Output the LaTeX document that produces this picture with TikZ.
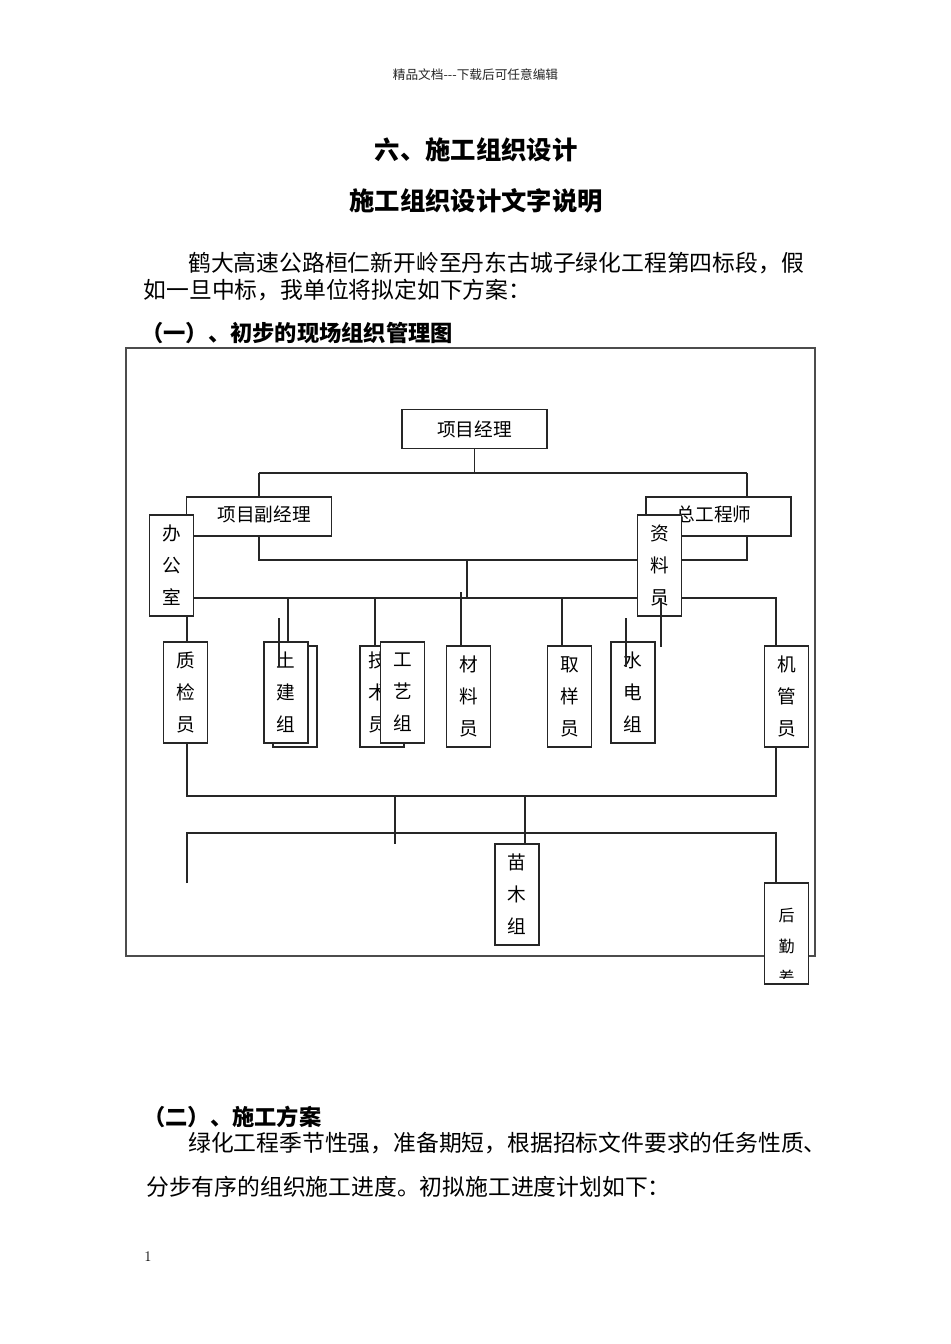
\documentclass[tikz,border=0pt]{standalone}
\usepackage{fontspec}
\newfontfamily\cjk{Noto Sans CJK SC}
\usetikzlibrary{backgrounds}
\begin{document}
\begin{tikzpicture}[x=0.75pt,y=-0.75pt,
  ln/.style={line width=0.9pt, draw=black!85},
  frame/.style={line width=0.9pt, draw=black!70},
  box/.style={draw=black!85, line width=0.9pt, fill=white, inner sep=0pt},
  hbox/.style={box, minimum width=108.75pt, minimum height=28.9pt, font=\cjk\fontsize{14}{16}\selectfont},
  vbox/.style={box, minimum width=33.5pt, minimum height=75.75pt, align=center, font=\cjk\fontsize{14}{24}\selectfont},
  lab/.style={inner sep=0pt, font=\cjk\fontsize{14}{16}\selectfont},
  vlab/.style={inner sep=0pt, align=center, font=\cjk\fontsize{14}{24}\selectfont},
  body/.style={inner sep=0pt, anchor=west, font=\cjk\fontsize{17.1}{20}\selectfont},
  head/.style={inner sep=0pt, anchor=west, font=\cjk\bfseries\fontsize{16.7}{20}\selectfont},
  ttl/.style={inner sep=0pt, font=\cjk\bfseries\fontsize{19}{22}\selectfont},
]
\useasboundingbox (0,0) rectangle (950,1344);

% ---------- page texts ----------
\node[inner sep=0pt, font=\cjk\fontsize{9.5}{11}\selectfont, text=black!85] (hdr) at (475.5,75) {精品文档---下载后可任意编辑};
\node[ttl] (t1) at (476,150) {六、施工组织设计};
\node[ttl] (t2) at (476,201) {施工组织设计文字说明};
\node[body] (p1) at (188,263) {鹤大高速公路桓仁新开岭至丹东古城子绿化工程第四标段，假};
\node[body] (p2) at (143.5,290) {如一旦中标，我单位将拟定如下方案：};
\node[head] (h1) at (141,333) {（一）、初步的现场组织管理图};
\node[head] (h2) at (143,1117) {（二）、施工方案};
\node[body] (p3) at (188,1143) {绿化工程季节性强，准备期短，根据招标文件要求的任务性质、};
\node[body] (p4) at (146,1187) {分步有序的组织施工进度。初拟施工进度计划如下：};
\node[inner sep=0pt, font=\fontsize{11}{12}\selectfont] (pg) at (148,1257) {1};

% ---------- boxes ----------
\node[hbox] (pm) at (474.5,429) {项目经理};
\node[hbox, minimum height=29.25pt] (dpm) at (259,516.5) {};
\node[lab] (dpmt) at (264,514) {项目副经理};
\node[hbox, minimum height=29.25pt] (ce) at (718.5,516.5) {};
\node[lab] (cet) at (714,514) {总工程师};
\node[vbox] (off) at (171.5,565.5) {办\\公\\室};
\node[vbox] (data) at (659.5,565.5) {资\\料\\员};
\node[vbox] (qc) at (185.5,692.5) {质\\检\\员};
\node[vbox, minimum width=33pt] (tjb) at (295,696.5) {};
\node[vbox, minimum width=33pt] (tj) at (286,692.5) {土\\建\\组};
\node[vbox, minimum width=33pt] (js) at (382,696.5) {};
\node[vlab] (jst) at (378,692) {技\\术\\员};
\node[vbox] (gy) at (402.5,692.5) {工\\艺\\组};
\node[vbox] (cl) at (468.5,696.5) {材\\料\\员};
\node[vbox] (qy) at (569.5,696.5) {取\\样\\员};
\node[vbox, minimum width=33pt] (sd) at (633,692.5) {水\\电\\组};
\node[vbox] (jg) at (786.5,696.5) {机\\管\\员};
\node[vbox, minimum width=33pt] (mm) at (517,894.5) {苗\\木\\组};
\node[vbox] (hq) at (786.5,933.5) {};
\begin{scope}
  \clip (764,883) rectangle (809,978);
  \node[vlab, font=\cjk\fontsize{12}{23.5}\selectfont] (hqt) at (786.5,946) {后\\勤\\差};
\end{scope}

% ---------- connectors (under boxes) ----------
\coordinate (a1) at (474.5,473);
\coordinate (a2) at (259,473);
\coordinate (a3) at (747,473);
\coordinate (b1) at (259,560);
\coordinate (b2) at (747,560);
\coordinate (b3) at (467,560);
\coordinate (b4) at (467,599);
\coordinate (c0) at (187,598);
\coordinate (c9) at (776,598);
\coordinate (c1) at (288,598);
\coordinate (c2) at (375,598);
\coordinate (c3) at (461,592);
\coordinate (c4) at (562,598);
\coordinate (d1) at (187,796);
\coordinate (d2) at (776,796);
\coordinate (e1) at (395,796);
\coordinate (e1e) at (395,844);
\coordinate (e2) at (525,796);
\coordinate (f1) at (187,833);
\coordinate (f1e) at (187,883);
\coordinate (f2) at (776,833);

\begin{pgfonlayer}{background}
  \fill[white] (0,0) rectangle (950,1344);
  \draw[frame] (126,348) rectangle (815,956);
  \draw[ln] (pm.south) -- (a1);
  \draw[ln] (a2) -- (a3);
  \draw[ln] (a2) -- (dpm.north);
  \draw[ln] (a3) -- (a3 |- ce.north);
  \draw[ln] (dpm.south) -- (b1) -- (b2) -- (b2 |- ce.south);
  \draw[ln] (b3) -- (b4);
  \draw[ln] (c0) -- (c9) -- (c9 |- jg.north);
  \draw[ln] (c0) -- (c0 |- qc.north);
  \draw[ln] (c1) -- (c1 |- tj.north);
  \draw[ln] (c2) -- (c2 |- js.north);
  \draw[ln] (c3) -- (c3 |- cl.north);
  \draw[ln] (c4) -- (c4 |- qy.north);
  \draw[ln] (d1 |- qc.south) -- (d1) -- (d2) -- (d2 |- jg.south);
  \draw[ln] (e1) -- (e1e);
  \draw[ln] (e2) -- (e2 |- mm.north);
  \draw[ln] (f1e) -- (f1) -- (f2) -- (f2 |- hq.north);
\end{pgfonlayer}

% ---------- lines drawn over boxes ----------
\coordinate (s1) at (279,618);
\coordinate (s1e) at (279,667);
\coordinate (s2) at (626,618);
\coordinate (s2e) at (626,667);
\coordinate (c5) at (661,598);
\coordinate (c5e) at (661,647);
\draw[ln] (s1) -- (s1e);
\draw[ln] (s2) -- (s2e);
\draw[ln] (c5) -- (c5e);
\end{tikzpicture}
\end{document}
